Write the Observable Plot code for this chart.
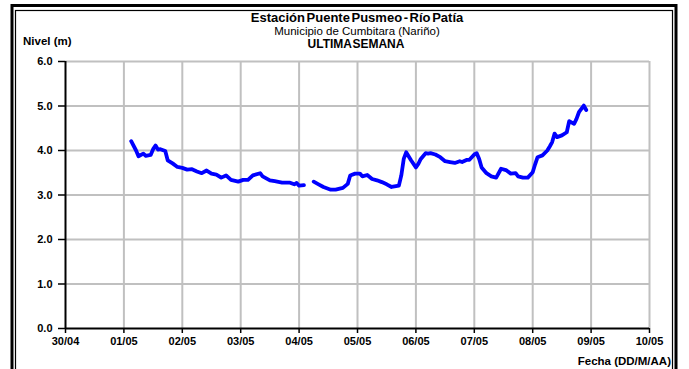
<!DOCTYPE html>
<html><head><meta charset="utf-8">
<script src="https://cdn.jsdelivr.net/npm/d3@7"></script>
<script src="https://cdn.jsdelivr.net/npm/@observablehq/plot@0.6"></script>
<style>
body{margin:0;background:#fff}
svg{display:block}
</style>
</head><body><div id="chart"></div>
<script>
const title = "Estación Puente Pusmeo - Río Patía";
const subtitle = "Municipio de Cumbitara (Nariño)";
const period = "ULTIMA SEMANA";
const yLabel = "Nivel (m)";
const xLabel = "Fecha (DD/M/AA)";
const startDate = Date.UTC(2019, 3, 30);
const tickDayOffsets = [0,1,2,3,4,5,6,7,8,9,10];
const yTicks = [0,1,2,3,4,5,6];
// hours after 30/04 00:00
const hours = [27,29,30,32,33,35,36,37,38,39,41,42,44,46,48,50,52,54,56,58,60,62,64,66,68,71,73,75,77,80,81,84,86,89,92,94,95,96,98,
  100,
  102,104,106,109,111,114,116,117,119,121,122,124,126,128,130,132,134,137,138,139,140,142,144,145,146,148,149,150,152,154,156,158,160,162,163,165,166,168,169,170,171,173,175,177,179,181,183,185,186,188,190,192,193,194,196,198,199,200,201,202,204,206,207,209,210,211,213,214];
const levels = [4.21,4.00,3.87,3.93,3.88,3.90,4.03,4.11,4.02,4.03,3.99,3.78,3.71,3.63,3.61,3.57,3.58,3.53,3.49,3.55,3.48,3.46,3.39,3.44,3.34,3.30,3.34,3.34,3.44,3.49,3.42,3.33,3.31,3.28,3.28,3.24,3.27,3.21,3.22,
  null,
  3.30,3.24,3.18,3.12,3.12,3.16,3.25,3.44,3.48,3.48,3.42,3.45,3.36,3.33,3.29,3.24,3.18,3.21,3.44,3.81,3.96,3.78,3.62,3.70,3.81,3.94,3.93,3.94,3.91,3.85,3.76,3.74,3.72,3.76,3.74,3.79,3.79,3.91,3.94,3.81,3.62,3.49,3.42,3.39,3.59,3.56,3.48,3.49,3.42,3.39,3.39,3.51,3.69,3.85,3.89,4.00,4.09,4.19,4.38,4.30,4.34,4.41,4.66,4.60,4.71,4.86,5.01,4.91];

const data = hours.map((h, i) => ({date: new Date(startDate + h * 3600e3), level: levels[i]}));
const tickDates = tickDayOffsets.map(d => new Date(startDate + d * 86400e3));
const fmt = d3.utcFormat("%d/%m");
const font = "'Liberation Sans', Arial, sans-serif";

const chart = Plot.plot({
  width: 689,
  height: 369,
  marginLeft: 65,
  marginRight: 40,
  marginTop: 61,
  marginBottom: 41,
  style: {fontFamily: font, fontSize: "11px", background: "#fff"},
  x: {type: "utc", domain: [tickDates[0], tickDates[tickDates.length - 1]]},
  y: {domain: [0, 6]},
  marks: [
    Plot.gridX(tickDates.slice(1), {stroke: "#c0c0c0", strokeOpacity: 1, strokeWidth: 2}),
    Plot.gridY(yTicks.slice(1), {stroke: "#c0c0c0", strokeOpacity: 1, strokeWidth: 2}),
    Plot.ruleX([tickDates[0]], {stroke: "#000", strokeWidth: 2}),
    Plot.ruleY([0], {stroke: "#000", strokeWidth: 2}),
    Plot.axisY(yTicks, {tickSize: 7, tickPadding: 6, tickFormat: d => d.toFixed(1), fontWeight: "bold", label: null, stroke: "#000", strokeWidth: 1.5}),
    Plot.axisX(tickDates, {tickSize: 5, tickPadding: 4, tickFormat: fmt, fontWeight: "bold", label: null, stroke: "#000", strokeWidth: 1.5}),
    Plot.line(data, {x: "date", y: "level", stroke: "#0000ff", strokeWidth: 3.8, strokeLinejoin: "round", strokeLinecap: "round"})
  ]
});

const svg = d3.select(chart);
// frame
svg.append("rect").attr("x", 12).attr("y", 5.5).attr("width", 664).attr("height", 420)
  .attr("fill", "none").attr("stroke", "#000").attr("stroke-width", 3);
svg.append("rect").attr("x", 15.5).attr("y", 10.5).attr("width", 657).attr("height", 420)
  .attr("fill", "none").attr("stroke", "#000").attr("stroke-width", 1.2);

const addText = (txt, x, y, anchor, weight, size) => svg.append("text")
  .attr("x", x).attr("y", y).attr("text-anchor", anchor)
  .attr("font-family", font).attr("font-size", size).attr("font-weight", weight)
  .attr("fill", "#000").text(txt);

addText(title, 357, 22.2, "middle", "bold", 13).attr("word-spacing", "-2");
addText(subtitle, 357, 35.2, "middle", "normal", 11.5);
addText(period, 356, 48, "middle", "bold", 12).attr("word-spacing", "-2.5");
addText(yLabel, 23, 45, "start", "bold", 11.5);
addText(xLabel, 671, 365, "end", "bold", 11.5);

document.getElementById("chart").append(chart);
</script>
</body></html>
